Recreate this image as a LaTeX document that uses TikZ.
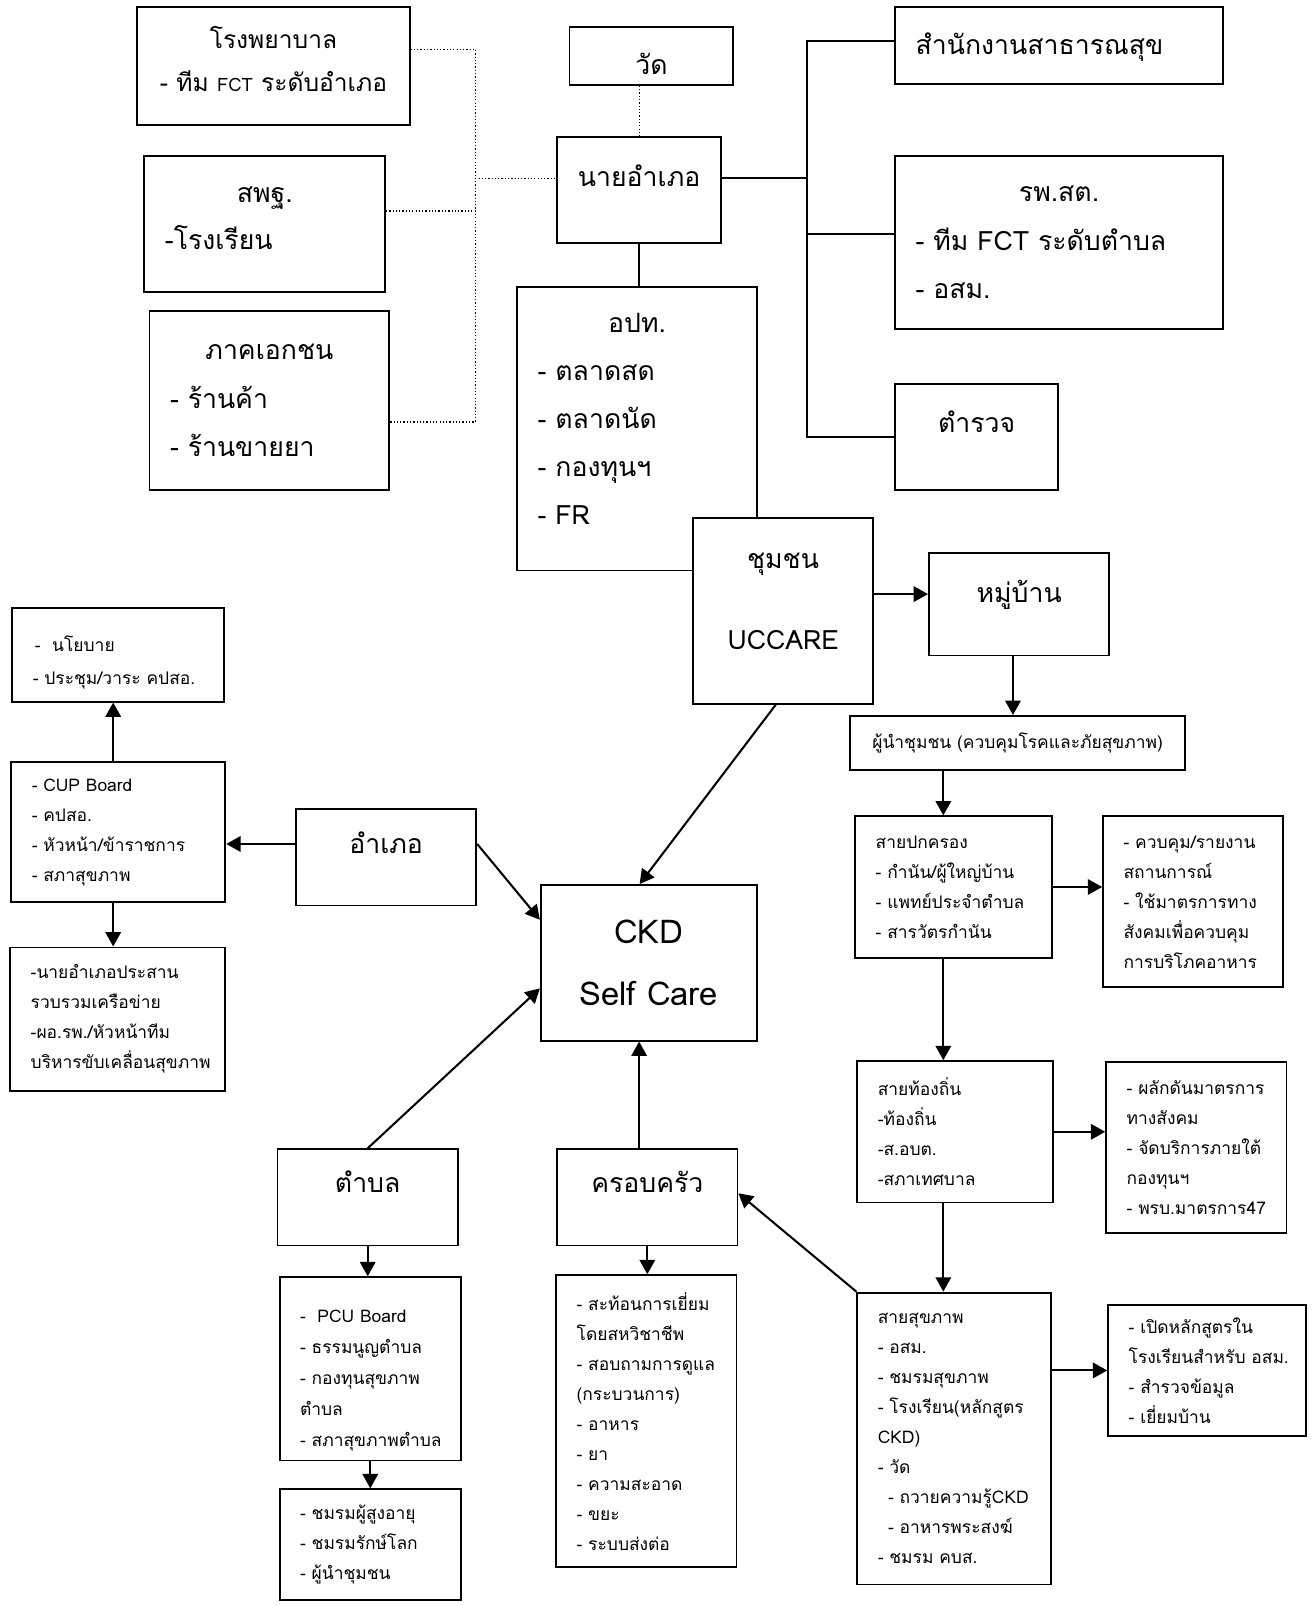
\documentclass[tikz,border=0pt]{standalone}
\usepackage{fontspec}
\setmainfont[Script=Thai]{Loma}
\usetikzlibrary{arrows.meta}
\newcommand{\ctrline}[1]{\hfill#1\hfill\null}

\begin{document}
\begin{tikzpicture}[x=1pt, y=-1pt,
    >={Triangle[width=15pt,length=14pt]},
    unit/.style = {rectangle, draw=black, line width=1.8pt, fill=white, inner sep=0pt},
    bigunit/.style = {unit, font=\fontsize{26}{34}\selectfont,
                      text height=20pt, text depth=28pt},
    listunit/.style = {unit, align=left, font=\fontsize{26}{47}\selectfont},
    smallunit/.style = {unit, align=left, font=\fontsize{17}{29.3}\selectfont},
    link/.style = {line width=2pt},
    dotlink/.style = {dotted, line width=1.2pt}]
  \useasboundingbox (0,0) rectangle (1280,1568);

  % upper part
  \node (hosp) [unit, align=center, font=\fontsize{24}{42}\selectfont,
      minimum width=266pt, minimum height=115pt, text height=60pt, text depth=11pt]
      at (267,64.5) {โรงพยาบาล\\- ทีม {\fontsize{18}{42}\selectfont FCT} ระดับอำเภอ};
  \node (obec) [listunit, font=\fontsize{26}{46}\selectfont, text width=195pt,
      minimum width=235pt, minimum height=133pt, text height=20pt, text depth=62pt]
      at (258.5,218.5) {\ctrline{สพฐ.}\\-โรงเรียน};
  \node (priv) [listunit, text width=194pt, minimum width=234pt, minimum height=174pt]
      at (263,391) {\ctrline{ภาคเอกชน}\\- ร้านค้า\\- ร้านขายยา};
  \node (temple) [bigunit, minimum width=160pt, minimum height=57pt,
      text height=40pt, text depth=3pt] at (636,54.5) {วัด};
  \node (nai) [bigunit, minimum width=160pt, minimum height=103pt, text depth=27pt]
      at (624,185.5) {นายอำเภอ};
  \node (opt) [listunit, text width=194pt, minimum width=234pt, minimum height=277pt,
      text height=20pt, text depth=208pt]
      at (622,418.5) {\ctrline{อปท.}\\- ตลาดสด\\- ตลาดนัด\\- กองทุนฯ\\- FR};
  \node (phoffice) [listunit, text width=280pt, minimum width=320pt, minimum height=75pt,
      text height=25pt, text depth=8pt] at (1034,44.5) {สำนักงานสาธารณสุข};
  \node (rpst) [listunit, text width=280pt, minimum width=320pt, minimum height=169pt]
      at (1034,236.5) {\ctrline{รพ.สต.}\\- ทีม FCT ระดับตำบล\\- อสม.};
  \node (police) [bigunit, minimum width=159pt, minimum height=103pt]
      at (953.5,426.5) {ตำรวจ};

  % community side
  \node (comm) [unit, align=center, font=\fontsize{26}{79}\selectfont,
      minimum width=175pt, minimum height=181pt, text height=103pt, text depth=27pt]
      at (764.5,596.5) {ชุมชน\\UCCARE};
  \node (village) [bigunit, minimum width=176pt, minimum height=100pt, text depth=24pt]
      at (995,590) {หมู่บ้าน};
  \node (leader) [smallunit, align=center, minimum width=327pt, minimum height=53pt]
      at (993.5,725.5) {ผู้นำชุมชน (ควบคุมโรคและภัยสุขภาพ)};
  \node (gov) [smallunit, text width=152pt, minimum width=192pt, minimum height=138pt]
      at (931,866) {สายปกครอง\\- กำนัน/ผู้ใหญ่บ้าน\\- แพทย์ประจำตำบล\\- สารวัตรกำนัน};
  \node (rb1) [smallunit, text width=136pt, minimum width=176pt, minimum height=167pt]
      at (1165,880.5) {- ควบคุม/รายงาน\\สถานการณ์\\- ใช้มาตรการทาง\\สังคมเพื่อควบคุม\\การบริโภคอาหาร};
  \node (local) [smallunit, text width=151pt, minimum width=191pt, minimum height=138pt]
      at (932.5,1105) {สายท้องถิ่น\\-ท้องถิ่น\\-ส.อบต.\\-สภาเทศบาล};
  \node (rb2) [smallunit, text width=136pt, minimum width=176pt, minimum height=167pt]
      at (1168,1120.5) {- ผลักดันมาตรการ\\ทางสังคม\\- จัดบริการภายใต้\\กองทุนฯ\\- พรบ.มาตรการ47};
  \node (health) [smallunit, text width=149pt, minimum width=189pt, minimum height=285pt]
      at (931.5,1404.5) {สายสุขภาพ\\- อสม.\\- ชมรมสุขภาพ\\- โรงเรียน(หลักสูตร\\CKD)\\- วัด\\
      \hspace*{10pt}- ถวายความรู้CKD\\\hspace*{10pt}- อาหารพระสงฆ์\\- ชมรม คบส.};
  \node (rb3) [smallunit, text width=153pt, minimum width=193pt, minimum height=128pt]
      at (1178.5,1338) {- เปิดหลักสูตรใน\\โรงเรียนสำหรับ~อสม.\\- สำรวจข้อมูล\\- เยี่ยมบ้าน};

  % centre and left side
  \node (ckd) [unit, align=center, font=\fontsize{32}{60}\selectfont,
      minimum width=211pt, minimum height=152pt] at (633.5,940) {CKD\\Self Care};
  \node (amphoe) [bigunit, minimum width=176pt, minimum height=94pt]
      at (377,837) {อำเภอ};
  \node (policy) [smallunit, text width=167pt, minimum width=207pt, minimum height=91pt,
      font=\fontsize{17}{32}\selectfont, text height=24pt, text depth=30pt] at (115.5,639.5)
      {\hspace*{2pt}-~~นโยบาย\\- ประชุม/วาระ คปสอ.};
  \node (cup) [smallunit, text width=169pt, minimum width=209pt, minimum height=137pt]
      at (115.5,812.5) {- CUP Board\\- คปสอ.\\- หัวหน้า/ข้าราชการ\\- สภาสุขภาพ};
  \node (coord) [smallunit, text width=170pt, minimum width=210pt, minimum height=140pt]
      at (115,995) {-นายอำเภอประสาน\\รวบรวมเครือข่าย\\-ผอ.รพ./หัวหน้าทีม\\บริหารขับเคลื่อนสุขภาพ};
  \node (tambon) [bigunit, minimum width=176pt, minimum height=94pt, text depth=30pt]
      at (359,1169) {ตำบล};
  \node (pcu) [smallunit, text width=137pt, minimum width=177pt, minimum height=179pt,
      font=\fontsize{17}{30.3}\selectfont, text height=35pt, text depth=125pt]
      at (361.5,1336.5)
      {-~~PCU Board\\- ธรรมนูญตำบล\\- กองทุนสุขภาพ\\ตำบล\\\mbox{- สภาสุขภาพตำบล}};
  \node (club) [smallunit, text width=137pt, minimum width=177pt, minimum height=108pt]
      at (361.5,1508) {- ชมรมผู้สูงอายุ\\- ชมรมรักษ์โลก\\- ผู้นำชุมชน};
  \node (family) [bigunit, minimum width=176pt, minimum height=94pt, text depth=30pt]
      at (632,1169) {ครอบครัว};
  \node (reflect) [smallunit, text width=136pt, minimum width=176pt, minimum height=285pt]
      at (631,1387.5) {- สะท้อนการเยี่ยม\\โดยสหวิชาชีพ\\- สอบถามการดูแล\\(กระบวนการ)\\- อาหาร\\- ยา\\- ความสะอาด\\- ขยะ\\- ระบบส่งต่อ};

  % dotted links
  \coordinate (dotbar) at (464,0);
  \coordinate (hj) at ([yshift=16.5pt]hosp.east);
  \coordinate (oj) at ([yshift=12.5pt]obec.east);
  \coordinate (pj) at ([yshift=-21pt]priv.east);
  \coordinate (nj) at ([yshift=11.5pt]nai.west);
  \draw[dotlink] (hj) -| (dotbar |- pj) -- (pj);
  \draw[dotlink] (oj) -- (dotbar |- oj);
  \draw[dotlink] (dotbar |- nj) -- (nj);
  \draw[dotlink] (nai.north |- temple.south) -- (nai.north);

  % solid links
  \coordinate (trunk) at (788,0);
  \coordinate (sj) at ([yshift=4.5pt]phoffice.west);
  \coordinate (ej) at ([yshift=11.5pt]nai.east);
  \coordinate (rj) at ([yshift=8.5pt]rpst.west);
  \draw[link] (sj) -| (trunk |- police.west) -- (police.west);
  \draw[link] (ej) -- (trunk |- ej);
  \draw[link] (rj) -- (trunk |- rj);
  \draw[link] (nai.south) -- (nai.south |- opt.north);

  % arrows
  \coordinate (vj) at ([yshift=10pt]village.west);
  \coordinate (gx) at ([xshift=-10pt]gov.north);
  \coordinate (fx) at ([xshift=-8pt]family.north);
  \coordinate (aj) at ([yshift=13pt]amphoe.west);
  \coordinate (cx) at ([xshift=-5pt]cup.north);
  \draw[->, link] (comm.east |- vj) -- (vj);
  \draw[->, link] ([xshift=-6pt]village.south) -- ([xshift=-6pt]village.south |- leader.north);
  \draw[->, link] (leader.south -| gx) -- (gx);
  \draw[->, link] (gov.south -| gx) -- (local.north -| gx);
  \draw[->, link] (local.south -| gx) -- (health.north -| gx);
  \draw[->, link] (gov.east) -- (gov.east -| rb1.west);
  \draw[->, link] (local.east) -- (local.east -| rb2.west);
  \draw[->, link] (rb3.west -| health.east) -- (rb3.west);
  \draw[->, link] (health.north west) -- ([yshift=4pt]family.east);
  \draw[->, link] (fx) -- (fx |- ckd.south);
  \draw[->, link] (family.south) -- (family.south |- reflect.north);
  \draw[->, link] ([xshift=-7pt]comm.south) -- ([xshift=-9pt]ckd.north);
  \draw[->, link] ([yshift=13pt]amphoe.east) -- ([yshift=42pt]ckd.west);
  \draw[->, link] (tambon.north) -- ([yshift=-25pt]ckd.west);
  \draw[->, link] (aj) -- (aj -| cup.east);
  \draw[->, link] (cx) -- (cx |- policy.south);
  \draw[->, link] (cup.south -| cx) -- (cx |- coord.north);
  \draw[->, link] (tambon.south) -- (tambon.south |- pcu.north);
  \draw[->, link] (pcu.south) -- (pcu.south |- club.north);
\end{tikzpicture}
\end{document}
